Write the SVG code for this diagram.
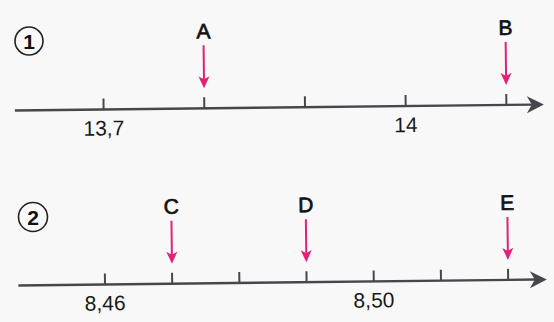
<svg xmlns="http://www.w3.org/2000/svg" width="554" height="322" viewBox="0 0 554 322">
<style>
.axis{stroke:#47464d;stroke-width:2.4;fill:none}
.tick{stroke:#47464d;stroke-width:2;fill:none}
.head{fill:#47464d}
.pk{stroke:#e2207a;stroke-width:2;fill:none}
.pkh{fill:#e2207a}
.lab{font-family:"Liberation Sans",Arial,sans-serif;font-size:21px;fill:#1a1a1a;text-anchor:middle}
.let{font-family:"Liberation Sans",Arial,sans-serif;font-size:21px;fill:#111;stroke:#111;stroke-width:0.7;text-anchor:middle}
.circ{fill:none;stroke:#222;stroke-width:1.6}
.num{font-family:"Liberation Sans",Arial,sans-serif;font-size:21px;font-weight:bold;fill:#111;text-anchor:middle}
</style>
<defs>
<path id="ph" d="M0,0 L-5.5,-12 L0,-9 L5.5,-12 Z"/>
<path id="bh" d="M0,0 L-17,-8.5 L-12,0 L-17,8.5 Z"/>
</defs>
<rect width="554" height="322" fill="#f8f8f8"/>
<g id="marker1"><circle class="circ" cx="29" cy="41" r="14"/><text class="num" x="29" y="48.5">1</text></g>
<g id="marker2"><circle class="circ" cx="33" cy="217" r="14.5"/><text class="num" x="33" y="224.5">2</text></g>
<g transform="rotate(-0.65 277 161)">
<g id="line1">
<line class="axis" x1="15.5" y1="107.5" x2="534" y2="107.5"/>
<use href="#bh" x="544.5" y="107.5" class="head"/>
<path class="tick" d="M104.2,96.5V107.5M204.9,96.5V107.5M305.6,96.5V107.5M406.3,96.5V107.5M507,96.5V107.5"/>
<text class="lab" x="104.2" y="133.5">13,7</text>
<text class="lab" x="406.3" y="133.5">14</text>
</g>
<g id="pointA"><text class="let" x="204.9" y="37.5">A</text><line class="pk" x1="204.9" y1="44.5" x2="204.9" y2="79"/><use href="#ph" x="204.9" y="87.5" class="pkh"/></g>
<g id="pointB"><text class="let" x="507" y="37.5">B</text><line class="pk" x1="507" y1="44.5" x2="507" y2="79"/><use href="#ph" x="507" y="87.5" class="pkh"/></g>
<g id="line2">
<line class="axis" x1="17" y1="282.5" x2="535" y2="282.5"/>
<use href="#bh" x="545.5" y="282.5" class="head"/>
<path class="tick" d="M103.6,271.5V282.5M170.8,271.5V282.5M238,271.5V282.5M305.2,271.5V282.5M372.4,271.5V282.5M439.6,271.5V282.5M506.8,271.5V282.5"/>
<text class="lab" x="103.6" y="308.5">8,46</text>
<text class="lab" x="372.4" y="308.5">8,50</text>
</g>
<g id="pointC"><text class="let" x="170.8" y="212.5">C</text><line class="pk" x1="170.8" y1="219.5" x2="170.8" y2="254"/><use href="#ph" x="170.8" y="262.5" class="pkh"/></g>
<g id="pointD"><text class="let" x="305.2" y="212.5">D</text><line class="pk" x1="305.2" y1="219.5" x2="305.2" y2="254"/><use href="#ph" x="305.2" y="262.5" class="pkh"/></g>
<g id="pointE"><text class="let" x="506.8" y="212.5">E</text><line class="pk" x1="506.8" y1="219.5" x2="506.8" y2="254"/><use href="#ph" x="506.8" y="262.5" class="pkh"/></g>
</g>
</svg>
